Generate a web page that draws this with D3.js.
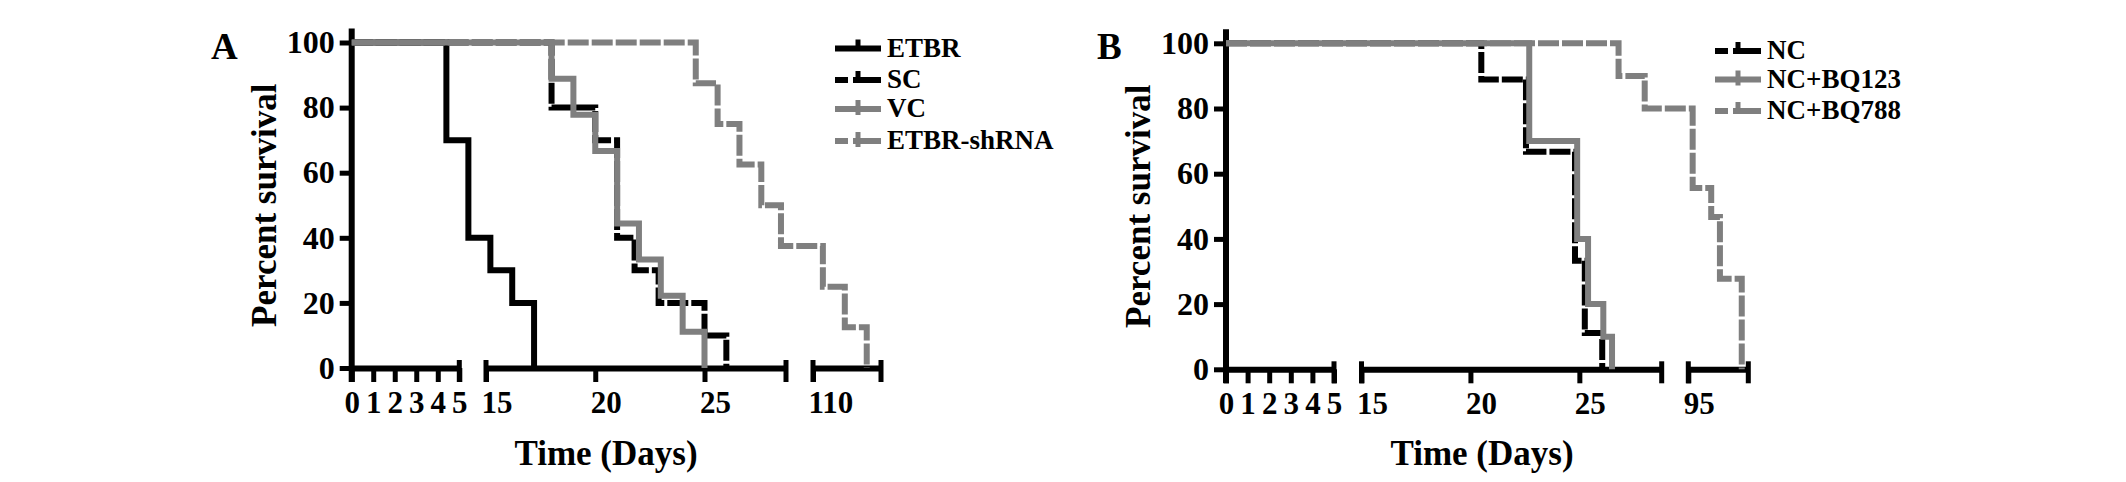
<!doctype html>
<html lang="en">
<head>
<meta charset="utf-8">
<title>Kaplan-Meier survival</title>
<script src="https://cdn.jsdelivr.net/npm/d3@7"></script>
<style>
  body { margin: 0; background: #fff; }
  svg text { font-family: "Liberation Serif", "Times New Roman", serif; font-weight: bold; fill: #000; }
</style>
</head>
<body>
<script>
// ---- data ----
var survTicks = [0, 20, 40, 60, 80, 100];

// panel A : broken time axis
var aBreaks = [0, 5, 15, 28.73, 110, 113.1];
var aTicks = [[0, 1, 2, 3, 4, 5], [15, 20, 25], [110]];
var aNames = ["ETBR", "SC", "VC", "ETBR-shRNA"];
var etbrDays = [4.4, 8.4, 15.2, 16.2, 17.2];
var etbrSurv = [70, 40, 30, 20, 0];
var scDays = [18, 20, 21, 21.8, 22.9, 25, 26];
var scSurv = [80, 70, 40, 30, 20, 10, 0];
var vcDays = [18, 19, 20, 21, 22, 23, 24, 25];
var vcSurv = [88.9, 77.8, 66.7, 44.4, 33.3, 22.2, 11.1, 0];
var shDays = [24.6, 25.6, 26.6, 27.6, 28.5, 110.45, 111.45, 112.45];
var shSurv = [87.5, 75, 62.5, 50, 37.5, 25, 12.5, 0];

// panel B
var bBreaks = [0, 5, 15, 28.78, 95, 97.75];
var bTicks = [[0, 1, 2, 3, 4, 5], [15, 20, 25], [95]];
var bNames = ["NC", "NC+BQ123", "NC+BQ788"];
var ncDays = [20.5, 22.55, 24.8, 25.25, 26.05];
var ncSurv = [88.9, 66.7, 33.3, 11.1, 0];
var bq123Days = [22.7, 24.9, 25.4, 26.1, 26.5];
var bq123Surv = [70, 40, 20, 10, 0];
var bq788Days = [26.8, 28, 95.2, 96.05, 96.45, 97.45];
var bq788Surv = [90, 80, 55.6, 46.7, 27.8, 0];

// ---- styles ----
var black = "#000", gray = "#7f7f7f";
var lw = 6;
var dash = "21,3";

var svg = d3.select("body").append("svg")
    .attr("width", 2126)
    .attr("height", 482);

var panels = [
  {
    letter: "A", letterX: 211, xr: [351.7, 459.3, 486, 786, 813, 881], yr: [368, 42.5],
    breaks: aBreaks, ticks: aTicks, titleX: 606,
    series: [
      {days: etbrDays, surv: etbrSurv, color: black, dashed: false, up: true},
      {days: scDays, surv: scSurv, color: black, dashed: true, up: true},
      {days: vcDays, surv: vcSurv, color: gray, dashed: false, up: false},
      {days: shDays, surv: shSurv, color: gray, dashed: true, up: false}
    ],
    names: aNames, legX: 835, legY: [48.5, 80, 109, 141]
  },
  {
    letter: "B", letterX: 1097, xr: [1226, 1334, 1361.5, 1661.7, 1688.3, 1748.3], yr: [369.3, 43.3],
    breaks: bBreaks, ticks: bTicks, titleX: 1482,
    series: [
      {days: ncDays, surv: ncSurv, color: black, dashed: true, up: true},
      {days: bq123Days, surv: bq123Surv, color: gray, dashed: false, up: false},
      {days: bq788Days, surv: bq788Surv, color: gray, dashed: true, up: true}
    ],
    names: bNames, legX: 1715, legY: [51, 79.5, 111]
  }
];

panels.forEach(function(p) {
  var g = svg.append("g");
  var x = d3.scaleLinear().domain(p.breaks).range(p.xr);
  var y = d3.scaleLinear().domain([0, 100]).range(p.yr);
  var x0 = x(0), y0 = y(0);

  // y axis
  var yAxis = g.append("g")
      .attr("transform", "translate(" + x0 + ",0)")
      .call(d3.axisLeft(y).tickValues(survTicks).tickSize(12).tickPadding(5));
  yAxis.select(".domain").remove();
  yAxis.attr("font-size", 32).attr("font-family", null);
  yAxis.selectAll(".tick line").attr("stroke", black).attr("stroke-width", 5);
  g.append("line")
      .attr("x1", x0).attr("x2", x0)
      .attr("y1", y(100) - 14).attr("y2", y0 + 14)
      .attr("stroke", black).attr("stroke-width", lw);

  // broken x axis, one piece per segment
  p.ticks.forEach(function(tv, i) {
    var lo = p.breaks[2 * i], hi = p.breaks[2 * i + 1];
    var sub = d3.scaleLinear().domain([lo, hi]).range([x(lo), x(hi)]);
    var ax = g.append("g")
        .attr("transform", "translate(0," + y0 + ")")
        .call(d3.axisBottom(sub).tickValues(tv).tickSize(14).tickSizeOuter(0).tickFormat(d3.format("d")));
    ax.attr("font-size", 31).attr("font-family", null);
    ax.select(".domain").attr("stroke", black).attr("stroke-width", lw);
    ax.selectAll(".tick line").attr("stroke", black).attr("stroke-width", 5);
    ax.selectAll(".tick text")
        .attr("y", 23).attr("dy", "0.71em")
        .attr("text-anchor", function(d) { return d >= 10 ? "start" : "middle"; })
        .attr("dx", function(d) { return d >= 10 ? -5 : 0; });
    [lo, hi].forEach(function(v) {
      if (v === 0) return;
      g.append("line")
          .attr("x1", x(v)).attr("x2", x(v))
          .attr("y1", y0 - 8).attr("y2", y0 + 14)
          .attr("stroke", black).attr("stroke-width", 5);
    });
  });

  // step curves
  var line = d3.line()
      .x(function(d) { return x(d[0]); })
      .y(function(d) { return y(d[1]); })
      .curve(d3.curveStepAfter);

  p.series.forEach(function(s) {
    var pts = [[0, 100]].concat(s.days.map(function(d, k) { return [d, s.surv[k]]; }));
    g.append("path")
        .attr("d", line(pts))
        .attr("fill", "none")
        .attr("stroke", s.color)
        .attr("stroke-width", lw)
        .attr("stroke-dasharray", s.dashed ? dash : null);
  });

  // legend
  p.series.forEach(function(s, k) {
    var ly = p.legY[k], lx = p.legX;
    if (s.dashed) {
      g.append("line").attr("x1", lx).attr("x2", lx + 13).attr("y1", ly).attr("y2", ly)
          .attr("stroke", s.color).attr("stroke-width", lw);
      g.append("line").attr("x1", lx + 18).attr("x2", lx + 46).attr("y1", ly).attr("y2", ly)
          .attr("stroke", s.color).attr("stroke-width", lw);
    } else {
      g.append("line").attr("x1", lx).attr("x2", lx + 46).attr("y1", ly).attr("y2", ly)
          .attr("stroke", s.color).attr("stroke-width", lw);
    }
    g.append("line")
        .attr("x1", lx + 23).attr("x2", lx + 23)
        .attr("y1", ly - 9).attr("y2", s.up ? ly : ly + 6)
        .attr("stroke", s.color).attr("stroke-width", 5);
    g.append("text")
        .attr("x", lx + 52).attr("y", ly)
        .attr("dy", "0.3em")
        .attr("font-size", 27)
        .text(p.names[k]);
  });

  // titles
  g.append("text")
      .attr("x", p.letterX).attr("y", 59)
      .attr("font-size", 37)
      .text(p.letter);
  g.append("text")
      .attr("transform", "translate(" + (x0 - 76) + "," + ((y(0) + y(100)) / 2) + ") rotate(-90)")
      .attr("text-anchor", "middle")
      .attr("font-size", 35)
      .text("Percent survival");
  g.append("text")
      .attr("x", p.titleX).attr("y", 465)
      .attr("text-anchor", "middle")
      .attr("font-size", 35)
      .text("Time (Days)");
});
</script>
</body>
</html>
